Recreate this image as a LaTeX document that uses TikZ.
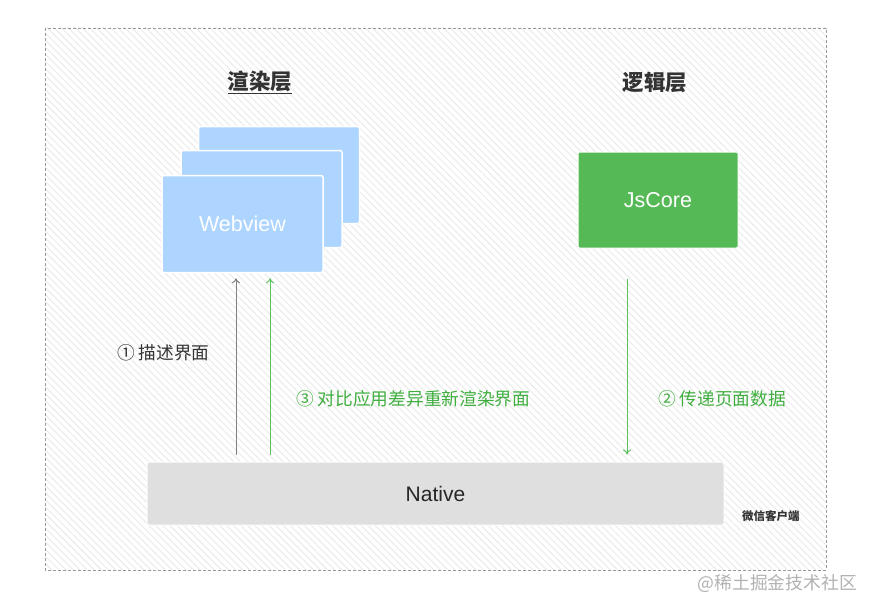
\documentclass[tikz,border=0pt]{standalone}
\usepackage{fontspec}
\setmainfont{Noto Sans CJK SC}
\newfontfamily\lat{Liberation Sans}
\usetikzlibrary{patterns.meta,arrows.meta}
\definecolor{wvblue}{HTML}{ADD5FF}
\definecolor{jsgreen}{HTML}{55B955}
\definecolor{nagray}{HTML}{DFDFDF}
\definecolor{labgreen}{HTML}{3FAE3F}
\definecolor{arrgreen}{HTML}{5CC05C}
\definecolor{txtdark}{HTML}{333333}
\tikzset{
  wvbox/.style={fill=wvblue, draw=white, line width=1.5pt, rounded corners=2pt,
    minimum width=161pt, minimum height=97pt, inner sep=0pt},
  jsbox/.style={fill=jsgreen, draw=white, line width=1pt, rounded corners=1.5pt,
    minimum width=160pt, minimum height=96pt, inner sep=0pt, text=white,
    font=\lat\fontsize{21.5}{25}\selectfont},
  nabox/.style={fill=nagray, draw=white, line width=1pt, rounded corners=2pt,
    minimum width=577pt, minimum height=63pt, inner sep=0pt, text=black!85,
    font=\lat\fontsize{21}{25}\selectfont},
  title/.style={text=txtdark, font=\fontsize{21.5}{26}\selectfont\bfseries},
  lab/.style={font=\fontsize{17.7}{21}\selectfont, inner sep=0pt},
  arr/.style={line width=1pt, -{To[length=5pt,width=8pt]}},
}
\begin{document}
\begin{tikzpicture}[x=1pt,y=-1pt]
\useasboundingbox (0,0) rectangle (874,610);
\fill[white] (0,0) rectangle (874,610);
% outer client frame with hatching
\path[pattern={Lines[angle=-45,distance=5pt,line width=1pt]}, pattern color=black!8]
  (45,28) rectangle (826,570);
\draw[black!40, dashed, dash pattern=on 3pt off 2pt, line width=0.8pt] (45,28) rectangle (826,570);

% titles
\node[title] (t1) at (260,82) {\underline{渲染层}};
\node[title] (t2) at (655,82) {逻辑层};

% webviews
\node[wvbox] (wv3) at (279,175) {};
\node[wvbox] (wv2) at (261.5,199) {};
\node[wvbox, text=white, font=\lat\fontsize{21.5}{25}\selectfont] (wv1) at (242.5,224) {Webview};

% jscore
\node[jsbox] (js) at (658,200) {JsCore};

% native
\node[nabox] (na) at (435.5,493.5) {Native};
\node[font=\fontsize{11.5}{14}\selectfont\bfseries, text=txtdark, anchor=west, inner sep=0pt] (wx) at (742,516) {微信客户端};

% arrow x positions
\coordinate (xa) at (236,0);
\coordinate (xb) at (270,0);
\coordinate (xc) at (627,0);

\draw[arr, black!50, shorten <=7pt, shorten >=5pt] (na.north -| xa) -- (wv1.south -| xa);
\draw[arr, arrgreen, shorten <=7pt, shorten >=5pt] (na.north -| xb) -- (wv1.south -| xb);
\draw[arr, arrgreen, shorten <=30pt, shorten >=7pt] (js.south -| xc) -- (na.north -| xc);

% labels
\node[lab, text=txtdark, anchor=west] (l1) at (117,353) {① 描述界面};
\node[lab, text=labgreen, anchor=west] (l3) at (296,399) {③ 对比应用差异重新渲染界面};
\node[lab, text=labgreen, anchor=west] (l2) at (658,399) {② 传递页面数据};

% watermark
\node[font=\fontsize{17.8}{21}\selectfont, text=black!30, anchor=east, inner sep=0pt] (wm) at (857,583) {@稀土掘金技术社区};
\end{tikzpicture}
\end{document}
